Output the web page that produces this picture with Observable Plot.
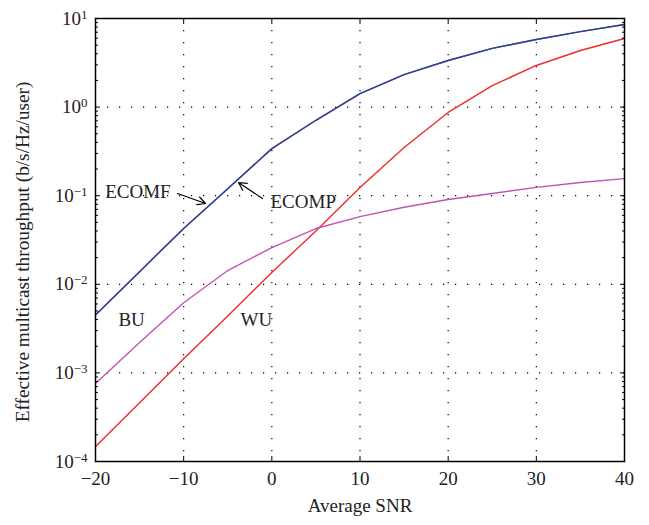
<!DOCTYPE html>
<html><head><meta charset="utf-8">
<script src="https://cdn.jsdelivr.net/npm/d3@7"></script>
<script src="https://cdn.jsdelivr.net/npm/@observablehq/plot@0.6"></script>
<style>body{margin:0;background:#fff}</style>
</head><body><div id="chart"></div>
<script>
const snr   = [-20, -15, -10, -5, 0, 5, 10, 15, 20, 25, 30, 35, 40];
const ecomf = [4.5e-3, 0.0139, 0.0427, 0.12, 0.34, 0.71, 1.42, 2.33, 3.36, 4.6, 5.8, 7.1, 8.55];
const ecomp = [4.5e-3, 0.0139, 0.0427, 0.12, 0.34, 0.71, 1.42, 2.33, 3.36, 4.6, 5.8, 7.1, 8.55];
const wu    = [1.48e-4, 4.6e-4, 1.44e-3, 4.4e-3, 0.0136, 0.040, 0.124, 0.35, 0.87, 1.75, 2.95, 4.35, 5.95];
const bu    = [7.6e-4, 2.2e-3, 6.2e-3, 0.0143, 0.026, 0.0426, 0.058, 0.074, 0.0906, 0.106, 0.124, 0.141, 0.156];

const seriesNames  = ["ECOMP", "ECOMF", "WU", "BU"];
const seriesColors = ["#5a66b4", "#323f8e", "#f22a2a", "#c153b3"];

const xTicks = [-20, -10, 0, 10, 20, 30, 40];
const xGrid  = [-10, 0, 10, 20, 30];
const yTicks = [1e-4, 1e-3, 1e-2, 1e-1, 1, 10];
const yGrid  = [1e-3, 1e-2, 1e-1, 1];
const yMinor = [];
for (let e = -4; e < 1; e++) for (let m = 2; m <= 9; m++) yMinor.push(m * Math.pow(10, e));

const labels = [
  {text: "ECOMF", x: -18.9, y: 0.111},
  {text: "ECOMP", x: -0.15, y: 0.0861},
  {text: "BU",    x: -17.4, y: 0.00401},
  {text: "WU",    x: -3.55, y: 0.00401}
];
const arrows = [
  {x1: -10.7, y1: 0.106, x2: -7.52, y2: 0.0817},
  {x1: -1.06, y1: 0.0929, x2: -3.78, y2: 0.141}
];

const xLabel = "Average SNR";
const yLabel = "Effective multicast throughput (b/s/Hz/user)";

const seriesVals = [ecomp, ecomf, wu, bu];
const rows = seriesNames.flatMap((name, i) => snr.map((x, j) => ({series: name, x, y: seriesVals[i][j]})));

const expStr = d => { const e = Math.round(Math.log10(d)); return (e < 0 ? "\u2212" : "") + Math.abs(e); };

const font = "'Liberation Serif', 'Times New Roman', serif";
const chart = Plot.plot({
  width: 649, height: 525,
  marginLeft: 95, marginRight: 25, marginTop: 18, marginBottom: 64,
  style: {fontFamily: font, fontSize: "19px", background: "#fff", color: "#222"},
  x: {domain: [-20, 40], label: null},
  y: {type: "log", domain: [1e-4, 10], label: null},
  color: {domain: seriesNames, range: seriesColors},
  marks: [
    Plot.gridX(xGrid, {stroke: "#000", strokeOpacity: 1, strokeWidth: 1.2, strokeDasharray: "1.2,10.8"}),
    Plot.gridY(yGrid, {stroke: "#000", strokeOpacity: 1, strokeWidth: 1.2, strokeDasharray: "1.2,10.8"}),
    Plot.line(rows, {x: "x", y: "y", z: "series", stroke: "series", strokeWidth: 1.4}),
    Plot.axisX({anchor: "bottom", ticks: xTicks, tickSize: -5, tickFormat: () => "", stroke: "#000"}),
    Plot.axisX({anchor: "top", ticks: xTicks, tickSize: -5, tickFormat: () => "", stroke: "#000"}),
    Plot.axisX({anchor: "bottom", ticks: xTicks, tickSize: 0, tickPadding: 10, fill: "#222", label: null}),
    Plot.axisY({anchor: "left", ticks: yTicks, tickSize: -5, tickFormat: () => "", stroke: "#000"}),
    Plot.axisY({anchor: "right", ticks: yTicks, tickSize: -5, tickFormat: () => "", stroke: "#000"}),
    Plot.axisY({anchor: "left", ticks: yMinor, tickSize: -3, tickFormat: () => "", stroke: "#000"}),
    Plot.axisY({anchor: "right", ticks: yMinor, tickSize: -3, tickFormat: () => "", stroke: "#000"}),
    Plot.axisY({anchor: "left", ticks: yTicks, tickSize: 0, tickPadding: 8, fill: "#222", label: null,
      tickFormat: d => "10^" + expStr(d)}),
    Plot.frame({stroke: "#000", strokeWidth: 1.5}),
    Plot.text(labels, {x: "x", y: "y", text: "text", textAnchor: "start", fill: "#222"}),
    Plot.arrow(arrows, {x1: "x1", y1: "y1", x2: "x2", y2: "y2", stroke: "#000", strokeWidth: 1.2, headLength: 11, headAngle: 55}),
    Plot.text([xLabel], {frameAnchor: "bottom", dy: 50, fill: "#222"}),
    Plot.text([yLabel], {frameAnchor: "left", textAnchor: "middle", rotate: -90, dx: -73, dy: 12, fontSize: 19.3, fill: "#222"})
  ]
});
document.getElementById("chart").appendChild(chart);

// render exponents as superscripts
chart.querySelectorAll('[aria-label="y-axis tick label"] text').forEach(t => {
  const s = t.textContent;
  if (!s.includes("^")) return;
  const [base, exp] = s.split("^");
  t.textContent = base;
  const sp = document.createElementNS("http://www.w3.org/2000/svg", "tspan");
  sp.setAttribute("dy", "-6");
  sp.setAttribute("font-size", "13");
  sp.textContent = exp;
  t.appendChild(sp);
});
</script>
</body></html>
